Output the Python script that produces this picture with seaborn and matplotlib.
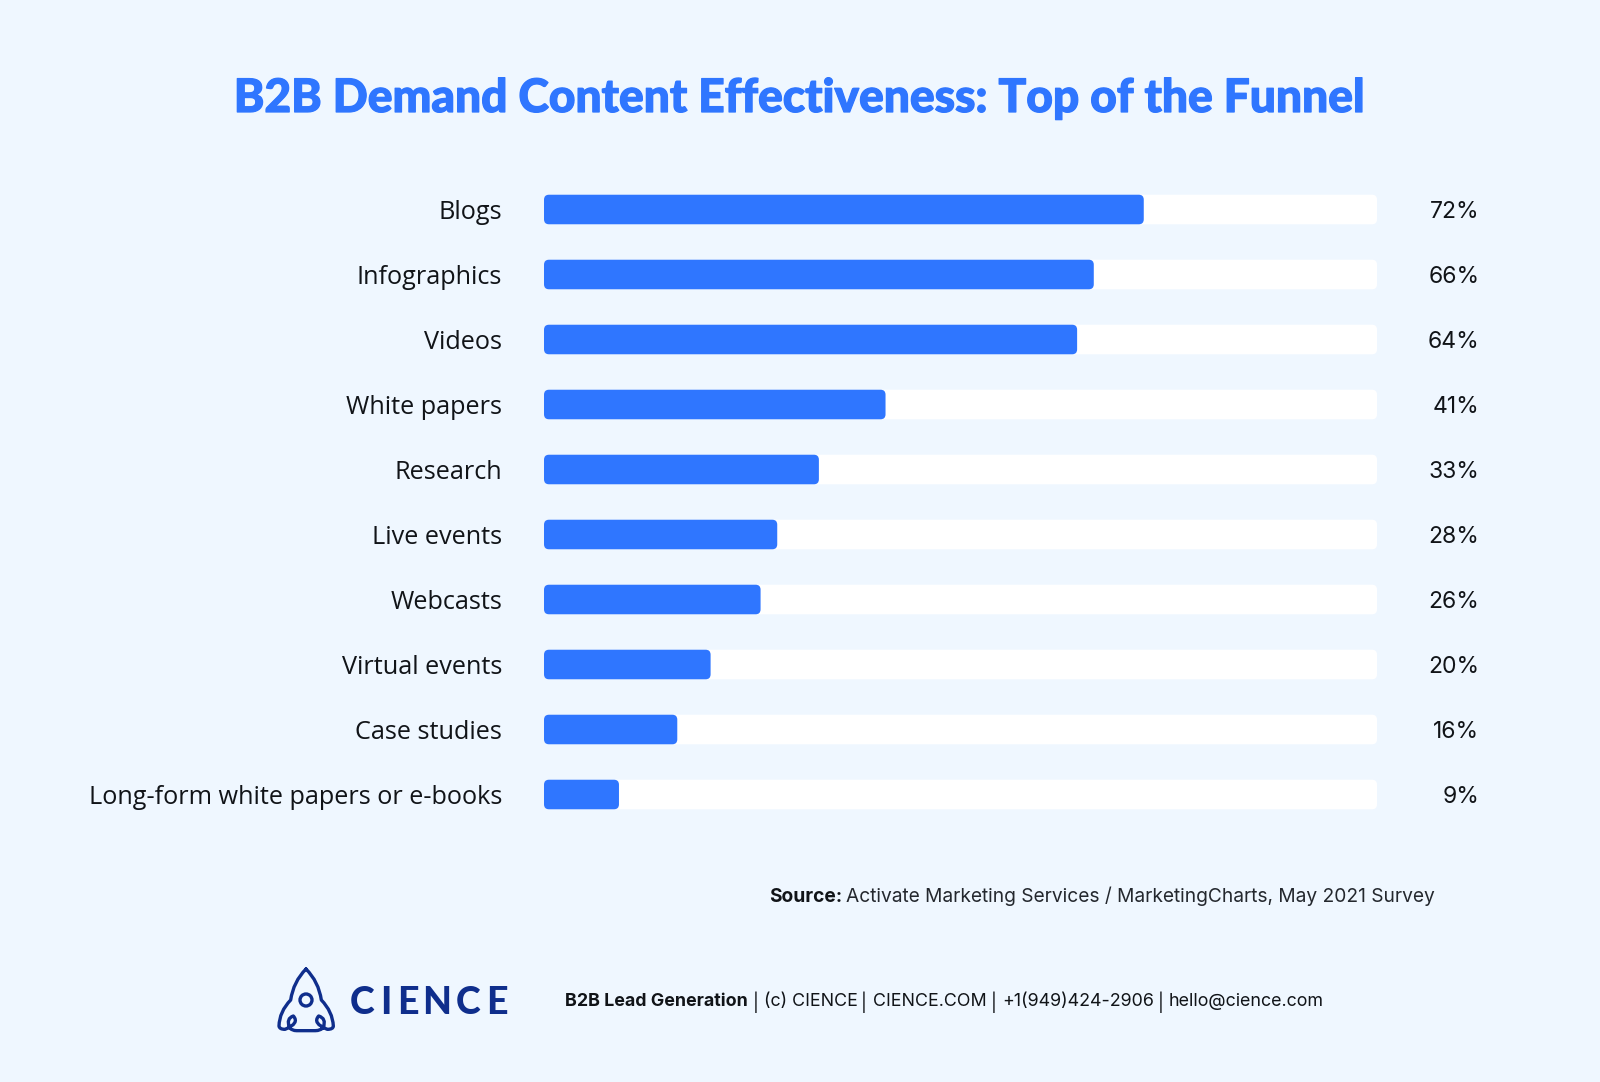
import pandas as pd
import seaborn as sns
import matplotlib.pyplot as plt
import matplotlib.patheffects as pe
from matplotlib.patches import FancyBboxPatch, PathPatch, Circle
from matplotlib.path import Path

# Datos
categorias = ['Blogs', 'Infographics', 'Videos', 'White papers', 'Research',
              'Live events', 'Webcasts', 'Virtual events', 'Case studies',
              'Long-form white papers or e-books']
valores = [72, 66, 64, 41, 33, 28, 26, 20, 16, 9]
total = [100] * len(valores)

df = pd.DataFrame({'categoria': categorias, 'valor': valores, 'total': total})

FONDO = '#EFF7FF'
AZUL = '#2F76FF'
MARINO = '#0F2E8C'
TEXTO = '#111418'
W, H = 1600, 1082

sns.set_theme(style='white')
plt.rcParams['font.family'] = ['Open Sans', 'DejaVu Sans']

fig = plt.figure(figsize=(W / 100, H / 100), dpi=100, facecolor=FONDO)
ax = fig.add_axes([544 / W, 1 - 827 / H, 833 / W, 650 / H])
ax.set_facecolor('none')

sns.barplot(data=df, x='total', y='categoria', color='white', width=0.455,
            saturation=1, ax=ax)
sns.barplot(data=df, x='valor', y='categoria', color=AZUL, width=0.455,
            saturation=1, ax=ax)
ax.set_xlim(0, 100)
ax.set_ylim(9.5, -0.5)

# Esquinas redondeadas: cambiar cada barra por una caja redondeada
px_x = 8.33
px_y = 65
radio = 5
for barra in list(ax.patches):
    caja = FancyBboxPatch(
        (barra.get_x(), barra.get_y()), barra.get_width(), barra.get_height(),
        boxstyle=f'round,pad=0,rounding_size={radio / px_x}',
        mutation_aspect=(1 / px_y) / (1 / px_x),
        facecolor=barra.get_facecolor(), edgecolor='none', clip_on=False)
    barra.remove()
    ax.add_patch(caja)

# Porcentajes a la derecha
for i, v in enumerate(valores):
    ax.text(112.3, i + 0.04, f'{v}%', ha='right', va='center', fontsize=16.5,
            color=TEXTO, family='Inter')

ax.set_xlabel('')
ax.set_ylabel('')
ax.set_xticks([])
ax.tick_params(axis='y', length=0, pad=30, labelsize=18.2, labelcolor=TEXTO)
for etiqueta in ax.get_yticklabels():
    etiqueta.set_fontfamily('Open Sans')
    etiqueta.set_verticalalignment('center_baseline')
sns.despine(ax=ax, left=True, bottom=True)

# Capa en pixeles para titulo, pie y logo
capa = fig.add_axes([0, 0, 1, 1], facecolor='none')
capa.set_xlim(0, W)
capa.set_ylim(H, 0)
capa.axis('off')

capa.text(800, 99, 'B2B Demand Content Effectiveness: Top of the Funnel',
          ha='center', va='center', fontsize=33.2, fontweight='black', color=AZUL,
          family='Lato', path_effects=[pe.withStroke(linewidth=0.9, foreground=AZUL)])

capa.text(769, 896.5, 'Source:', va='center', fontsize=13.8, fontweight='bold',
          color=TEXTO, family='Inter')
capa.text(846, 896.5, 'Activate Marketing Services / MarketingCharts, May 2021 Survey',
          va='center', fontsize=13.8, color='#24282e', family='Inter')

pie = [(565, 'B2B Lead Generation', 'bold'), (752.5, '|', 'normal'),
       (764, '(c) CIENCE', 'normal'), (860.5, '|', 'normal'),
       (873, 'CIENCE.COM', 'normal'), (990.5, '|', 'normal'),
       (1002, '+1(949)424-2906', 'normal'), (1157.5, '|', 'normal'),
       (1169, 'hello@cience.com', 'normal')]
for x, texto, peso in pie:
    capa.text(x, 1002, texto, va='center', fontsize=12.85, fontweight=peso,
              color=TEXTO, family='Inter')

# Logo
def z(x, y):
    return 250 + x / 3, 940 + y / 3

cohete = [
    (Path.MOVETO, (168, 87)), (Path.CURVE3, (130, 125)), (Path.CURVE3, (122, 180)),
    (Path.CURVE3, (88, 215)), (Path.CURVE3, (87, 258)), (Path.CURVE3, (88, 268)),
    (Path.CURVE3, (105, 268)), (Path.CURVE3, (150, 250)), (Path.CURVE3, (130, 228)),
    (Path.CURVE3, (108, 235)), (Path.CURVE3, (118, 262)), (Path.CURVE3, (125, 272)),
    (Path.CURVE3, (140, 272)), (Path.LINETO, (196, 272)), (Path.CURVE3, (212, 272)),
    (Path.CURVE3, (220, 262)), (Path.CURVE3, (230, 235)), (Path.CURVE3, (206, 228)),
    (Path.CURVE3, (186, 250)), (Path.CURVE3, (232, 268)), (Path.CURVE3, (250, 268)),
    (Path.CURVE3, (250, 258)), (Path.CURVE3, (248, 215)), (Path.CURVE3, (214, 180)),
    (Path.CURVE3, (206, 125)), (Path.CURVE3, (168, 87)),
]
codigos = [c for c, _ in cohete]
puntos = [z(*p) for _, p in cohete]
capa.add_patch(PathPatch(Path(puntos, codigos), facecolor='none', edgecolor=MARINO,
                         lw=2.4, capstyle='round', joinstyle='round'))
capa.add_patch(Circle(z(168, 180), 6, facecolor='none', edgecolor=MARINO, lw=2.4))

for x, letra in [(362, 'C'), (385.5, 'I'), (408, 'E'), (436.5, 'N'), (468, 'C'), (496.5, 'E')]:
    capa.text(x, 1000, letra, ha='center', va='center_baseline', fontsize=27,
              fontweight='black', color=MARINO, family='Lato')

fig.savefig('out.png', dpi=100, facecolor=FONDO)
